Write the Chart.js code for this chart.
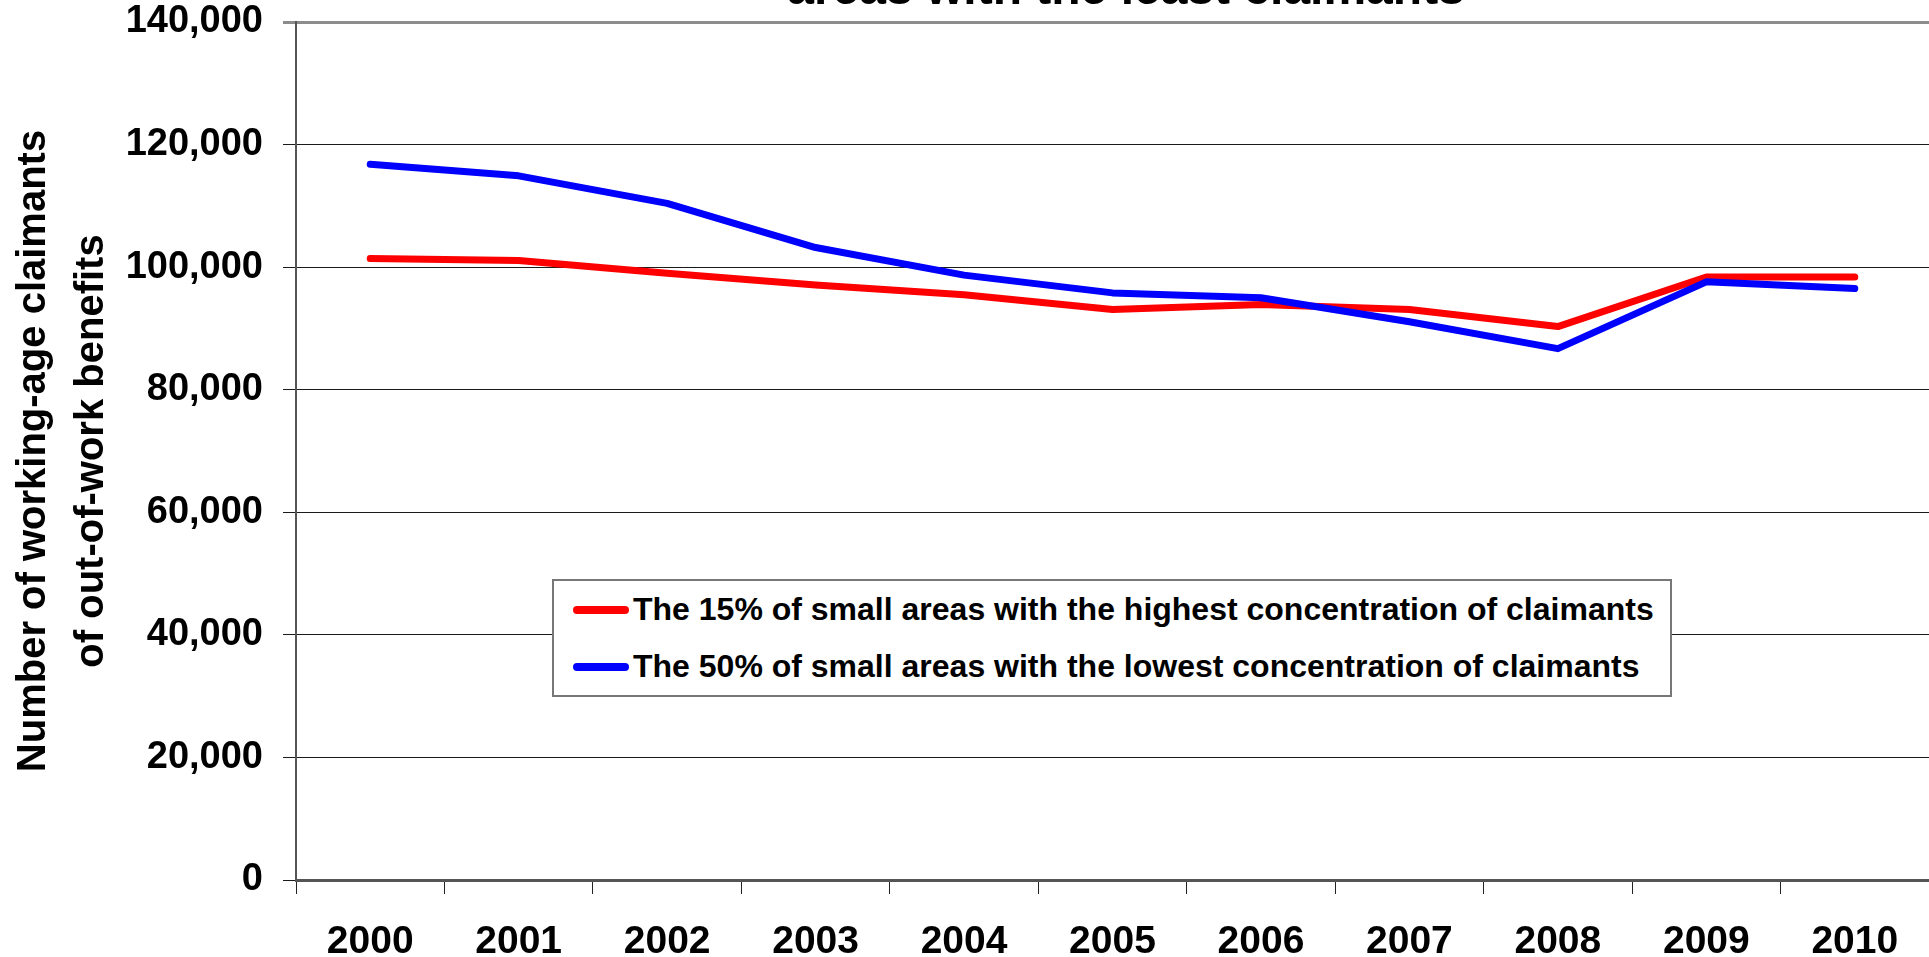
<!DOCTYPE html>
<html>
<head>
<meta charset="utf-8">
<script src="https://cdn.jsdelivr.net/npm/chart.js@4.4.1/dist/chart.umd.min.js"></script>
<style>
    html, body { margin: 0; padding: 0; background: #ffffff; overflow: hidden; }
    body { width: 1929px; height: 957px; position: relative; }
    #title {
        position: absolute; left: 0; width: 2252px; top: -36px;
        text-align: center; white-space: nowrap;
        font-family: "Liberation Sans", Arial, sans-serif; font-weight: bold;
        font-size: 48px; line-height: 48px; color: #000000;
    }
    #legend {
        position: absolute; left: 552px; top: 579px;
        border: 2px solid #777777; background: #ffffff;
        font-family: "Liberation Sans", Arial, sans-serif; font-weight: bold;
        font-size: 32px; color: #000000; padding-right: 16px;
    }
    .legend_row { height: 57px; display: flex; align-items: center; white-space: nowrap; }
    .legend_swatch { width: 56px; height: 8px; border-radius: 4px; margin-left: 19px; margin-right: 4px; }
</style>
</head>
<body>
<canvas id="chart" width="1929" height="957"></canvas>
<div id="title"></div>
<div id="legend"></div>
<script>
const years = ["2000", "2001", "2002", "2003", "2004", "2005", "2006", "2007", "2008", "2009", "2010"];
const highest_15 = [101400, 101100, 99000, 97100, 95500, 93100, 93900, 93100, 90300, 98400, 98400];
const lowest_50 = [116800, 114900, 110400, 103200, 98700, 95800, 95000, 91100, 86700, 97600, 96500];
const series_names = [
    "The 15% of small areas with the highest concentration of claimants",
    "The 50% of small areas with the lowest concentration of claimants"
];
const y_title = ["Number of working-age claimants", "of out-of-work benefits"];
const chart_title = "areas with the least claimants";

const font_family = "'Liberation Sans', Arial, sans-serif";

const config = {
    type: 'line',
    data: {
        labels: years,
        datasets: [
            {
                label: series_names[0],
                data: highest_15,
                borderColor: '#ff0000',
                order: 1,
            },
            {
                label: series_names[1],
                data: lowest_50,
                borderColor: '#0000ff',
                order: 0,
            },
        ],
    },
    options: {
        responsive: false,
        animation: false,
        layout: { padding: { top: 22, left: 0, right: 0, bottom: 0 } },
        elements: {
            line: { borderWidth: 7, tension: 0, borderCapStyle: 'round', borderJoinStyle: 'round', fill: false },
            point: { radius: 0 },
        },
        plugins: {
            legend: { display: false },
            tooltip: { enabled: false },
            title: { display: false },
        },
        scales: {
            x: {
                offset: true,
                grid: {
                    offset: true,
                    drawOnChartArea: false,
                    drawTicks: true,
                    tickLength: 14,
                    color: '#222222',
                    lineWidth: 1,
                },
                border: { color: '#555555', width: 3 },
                ticks: {
                    color: '#000000',
                    padding: 25,
                    maxRotation: 0,
                    font: { family: font_family, size: 39, weight: 'bold' },
                },
                afterFit: function(scale) { scale.height = 77; },
            },
            y: {
                min: 0,
                max: 140000,
                grid: {
                    tickLength: 13,
                    color: function(ctx) { return ctx.tick && ctx.tick.value == 140000 ? '#8c8c8c' : '#1a1a1a'; },
                    lineWidth: function(ctx) { return ctx.tick && ctx.tick.value == 140000 ? 3 : 1; },
                },
                border: { color: '#555555', width: 2 },
                ticks: {
                    stepSize: 20000,
                    color: '#000000',
                    padding: 20,
                    font: { family: font_family, size: 38, weight: 'bold' },
                    callback: function(value) { return value.toLocaleString('en-US'); },
                },
                title: {
                    display: true,
                    text: y_title,
                    color: '#000000',
                    padding: { top: 5, bottom: 0 },
                    font: { family: font_family, size: 40, weight: 'bold', lineHeight: 1.45 },
                },
                afterFit: function(scale) {
                    scale.width = 296;
                    scale.paddingTop = 0;
                    scale.paddingBottom = 0;
                },
            },
        },
    },
};

const chart = new Chart(document.getElementById('chart').getContext('2d'), config);

document.getElementById('title').appendChild(document.createTextNode(chart_title));

function Build_Legend(chart) {
    var legend = document.getElementById('legend');
    var datasets = chart.data.datasets;
    for (var i = 0; i < datasets.length; i++) {
        var row = document.createElement('div');
        row.setAttribute("class", "legend_row");
        var swatch = document.createElement('div');
        swatch.setAttribute("class", "legend_swatch");
        swatch.style.background = datasets[i].borderColor;
        row.appendChild(swatch);
        row.appendChild(document.createTextNode(datasets[i].label));
        legend.appendChild(row);
    }
}

Build_Legend(chart);
</script>
</body>
</html>
